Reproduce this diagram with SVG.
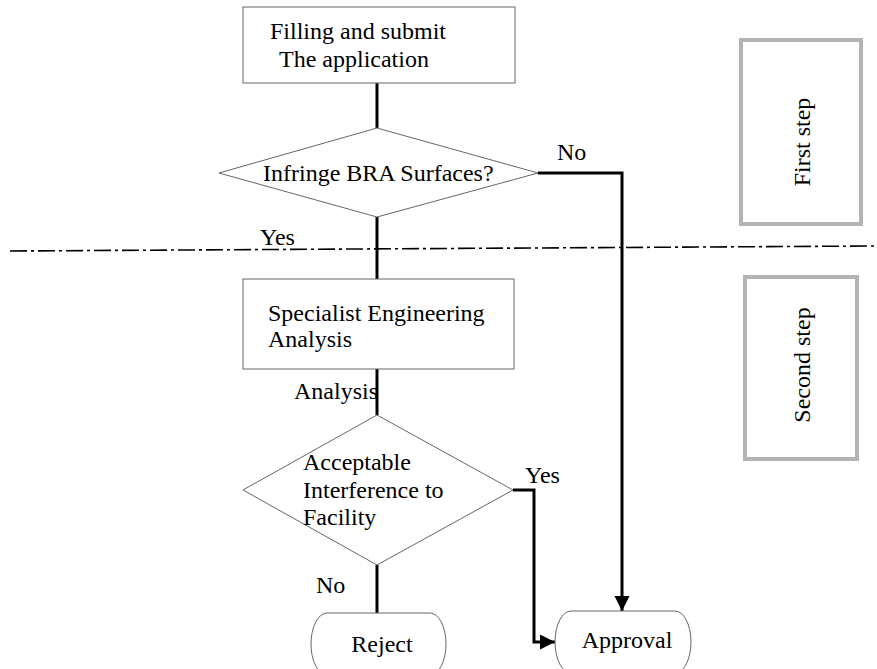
<svg xmlns="http://www.w3.org/2000/svg" width="877" height="669" viewBox="0 0 877 669">
<style>
text{font-family:'Liberation Serif','Times New Roman',Times,'DejaVu Serif',serif;font-size:24px;fill:#000}
.shape{fill:#fff;stroke:#666;stroke-width:1}
.step{fill:#fff;stroke:#b3b3b3;stroke-width:4}
.conn{fill:none;stroke:#000;stroke-width:3}
.sep{fill:none;stroke:#000;stroke-width:1.6;stroke-dasharray:17 4 3 4}
</style>
<defs>
<marker id="arr" markerUnits="userSpaceOnUse" markerWidth="16" markerHeight="16" refX="15" refY="7.5" orient="auto">
<path d="M0,0 L15,7.5 L0,15 Z" fill="#000"/>
</marker>
</defs>
<line class="sep" x1="10" y1="251" x2="877" y2="246"/>
<g id="connectors" font-family="Liberation Serif, serif">
<line class="conn" x1="377" y1="83" x2="377" y2="128"/>
<line class="conn" x1="377" y1="217" x2="377" y2="279"/>
<line class="conn" x1="377" y1="369" x2="377" y2="415"/>
<line class="conn" x1="377" y1="565" x2="377" y2="613"/>
<polyline class="conn" points="538,173 622,173 622,611" marker-end="url(#arr)"/>
<polyline class="conn" points="513,490 534,490 534,642 555,642" marker-end="url(#arr)"/>
<text x="557" y="160">No</text>
<text x="260" y="245">Yes</text>
<text x="294" y="399">Analysis</text>
<text x="525" y="483">Yes</text>
<text x="316" y="593">No</text>
</g>
<g id="n-submit">
<rect class="shape" x="243" y="7" width="272" height="76"/>
<text x="270" y="39">Filling and submit</text>
<text x="279" y="67">The application</text>
</g>
<g id="n-infringe">
<polygon class="shape" points="377,128 538,173 377,217 219,173"/>
<text x="263" y="181">Infringe BRA Surfaces?</text>
</g>
<g id="n-specialist">
<rect class="shape" x="243" y="279" width="271" height="90"/>
<text x="268" y="321">Specialist Engineering</text>
<text x="268" y="347">Analysis</text>
</g>
<g id="n-acceptable">
<polygon class="shape" points="377,415 513,490 377,565 243,490"/>
<text x="303" y="470">Acceptable</text>
<text x="303" y="498">Interference to</text>
<text x="303" y="525">Facility</text>
</g>
<g id="n-reject">
<rect class="shape" x="311" y="613" width="135" height="62" rx="16" ry="31"/>
<text x="382" y="652" text-anchor="middle">Reject</text>
</g>
<g id="n-approval">
<rect class="shape" x="555" y="611" width="136" height="62" rx="16" ry="31"/>
<text x="627" y="648" text-anchor="middle">Approval</text>
</g>
<g id="n-first-step">
<rect class="step" x="741" y="40" width="120" height="184"/>
<text transform="translate(810,142) rotate(-90)" text-anchor="middle">First step</text>
</g>
<g id="n-second-step">
<rect class="step" x="745" y="277" width="112" height="182"/>
<text transform="translate(810,365) rotate(-90)" text-anchor="middle">Second step</text>
</g>
</svg>
